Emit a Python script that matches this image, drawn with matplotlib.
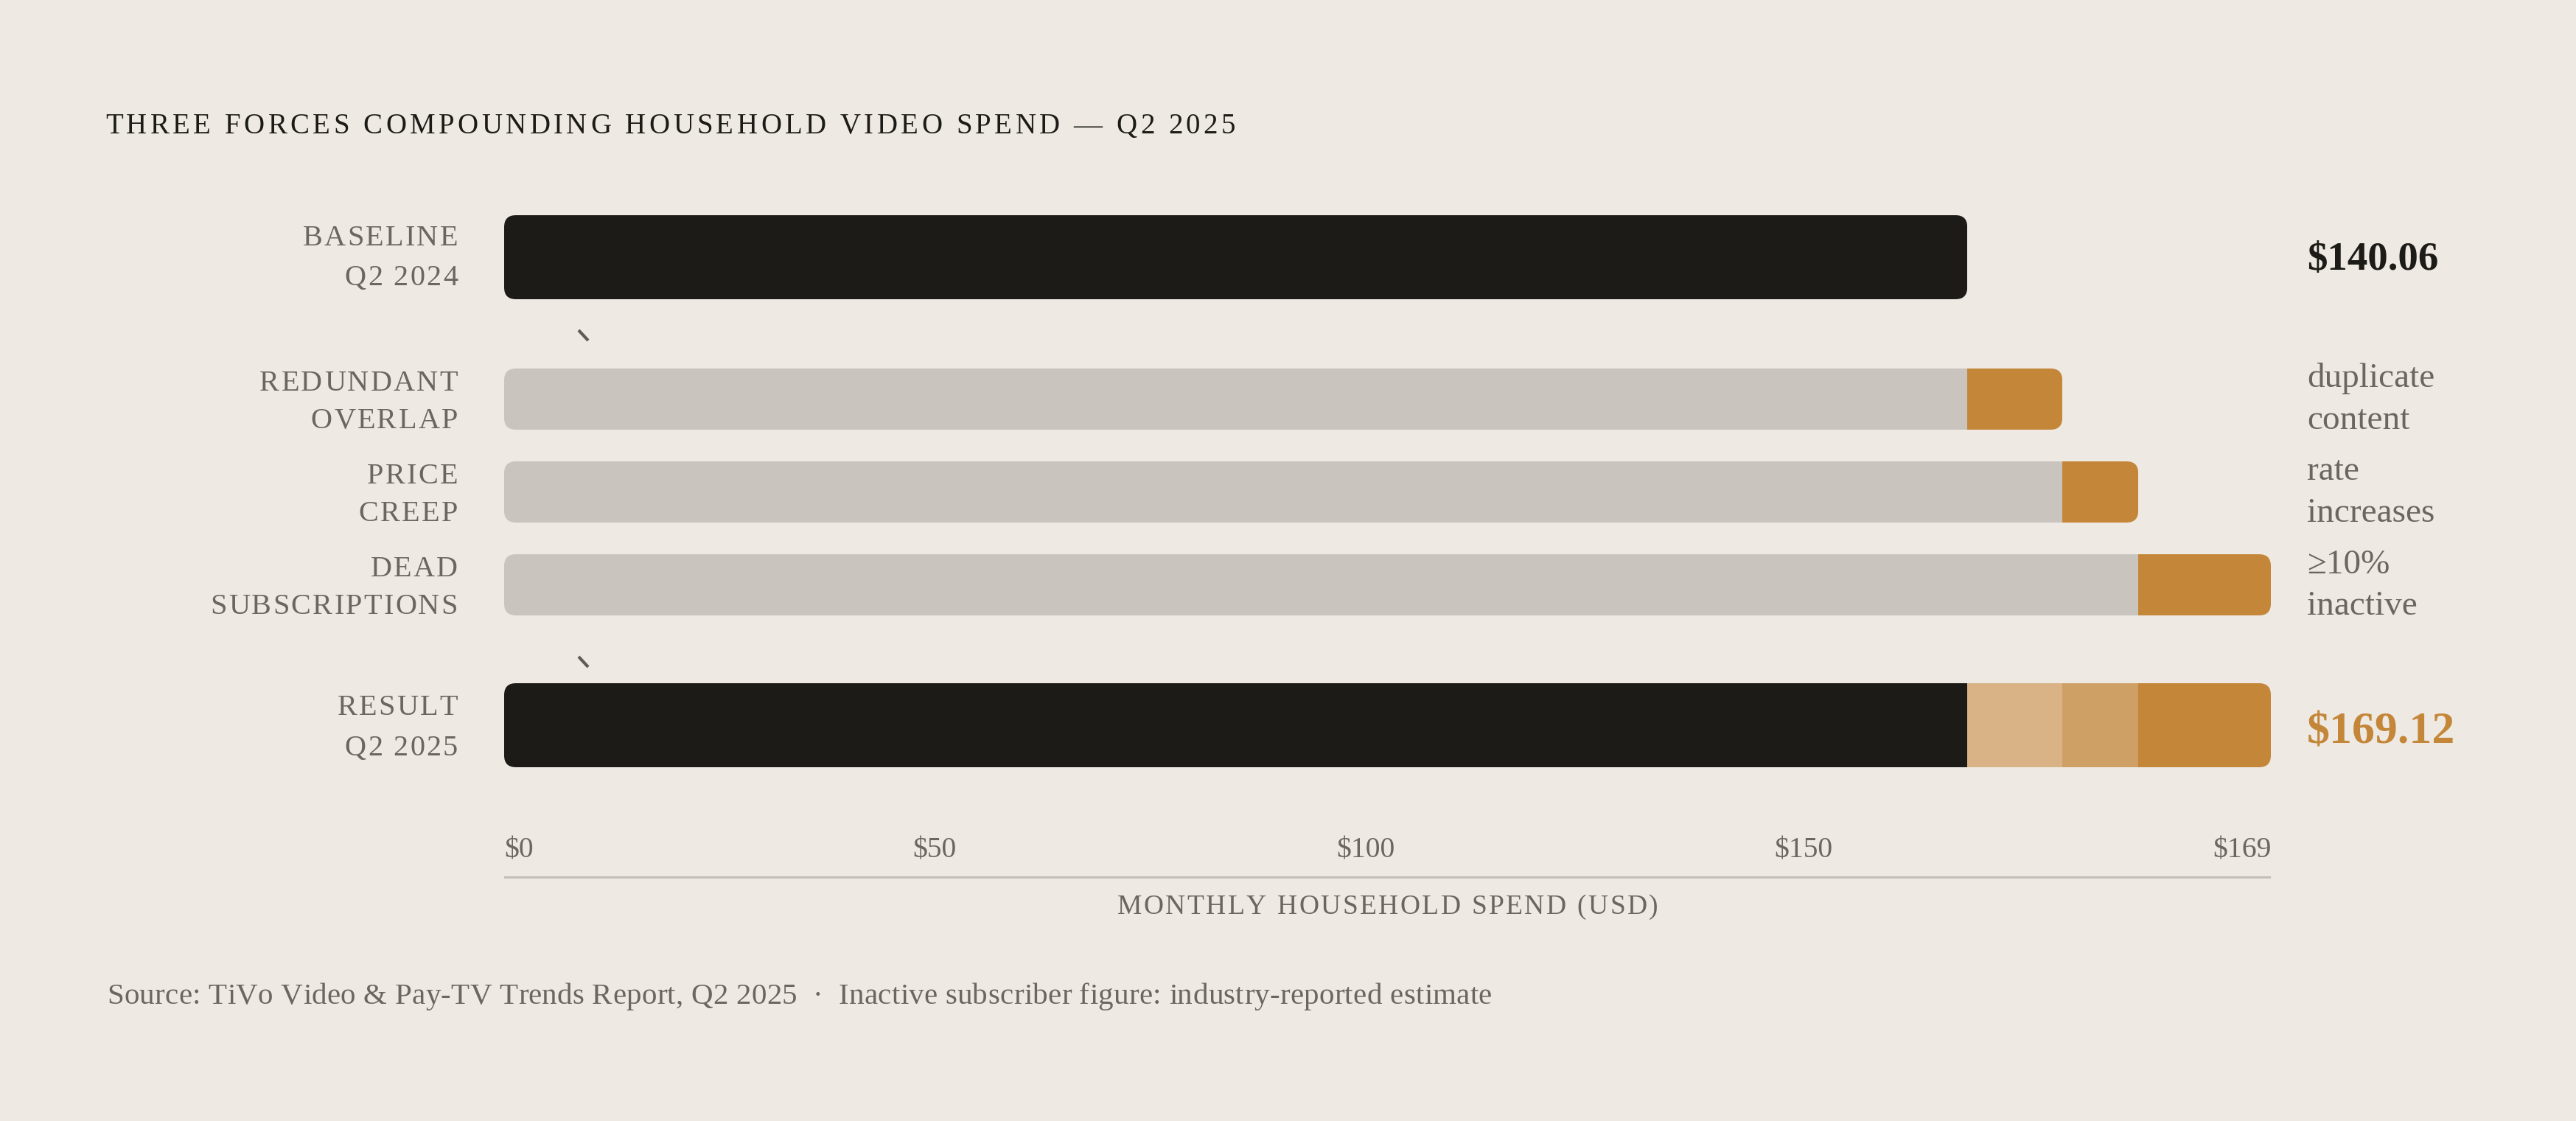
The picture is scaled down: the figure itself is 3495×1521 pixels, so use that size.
import numpy as np
import matplotlib
matplotlib.use("Agg")
import matplotlib.pyplot as plt
from matplotlib.patches import FancyBboxPatch
from matplotlib.lines import Line2D
from matplotlib.font_manager import FontProperties, findfont, get_font
try:
    from matplotlib.ft2font import LoadFlags
    NOHINT = LoadFlags.NO_HINTING
except Exception:  # older matplotlib
    from matplotlib.ft2font import LOAD_NO_HINTING as NOHINT

# ---------------- data ----------------
row_labels = [["BASELINE", "Q2 2024"],
              ["REDUNDANT", "OVERLAP"],
              ["PRICE", "CREEP"],
              ["DEAD", "SUBSCRIPTIONS"],
              ["RESULT", "Q2 2025"]]
baseline_spend = 140.06
force_values = [9.10, 7.27, 12.69]          # overlap, price creep, dead subs
force_notes = [["duplicate", "content"],
               ["rate", "increases"],
               ["\u226510%", "inactive"]]
tick_labels = ["$0", "$50", "$100", "$150", "$169"]
baseline_label = "$140.06"
result_label = "$169.12"
title = "THREE FORCES COMPOUNDING HOUSEHOLD VIDEO SPEND \u2014 Q2 2025"
axis_title = "MONTHLY HOUSEHOLD SPEND (USD)"
source = ("Source: TiVo Video & Pay-TV Trends Report, Q2 2025  \u00b7  "
          "Inactive subscriber figure: industry-reported estimate")

# ---------------- style / layout ----------------
W, H, DPI = 3495, 1521, 100
BG = "#eeeae3"
DARK = "#1c1b17"
GRAY = "#c9c4bd"
ORANGE = "#c4873a"
RES_SEG = ["#d9b385", "#cfa066", "#c4873a"]
TXT = "#6b675f"
AXLINE = "#c3beb6"
FAM = ["Liberation Serif", "DejaVu Serif"]

bar_x0, bar_x1 = 684, 3081
row_center = [349, 541.5, 667.5, 793.5, 984]
row_height = [114, 83, 83, 83, 114]
label_right = 621
label_base = [(-16, 38), (-11.5, 39.5), (-11.5, 39.5), (-11, 39.5), (-14, 41)]
note_x = 3130

plt.rcParams['font.family'] = FAM
fig = plt.figure(figsize=(W / DPI, H / DPI), dpi=DPI, facecolor=BG)


def fp(size, weight="normal"):
    return FontProperties(family=FAM, size=size, weight=weight)


def advances(s, prop):
    font = get_font(findfont(prop))
    font.set_size(prop.get_size_in_points(), DPI)
    out = []
    for ch in s:
        g = font.load_char(ord(ch), flags=NOHINT)
        out.append(g.linearHoriAdvance / 65536.0)
    return out


def text_width(s, prop, spacing=0.0):
    a = advances(s, prop)
    return sum(a) + spacing * (len(s) - 1)


def spaced_text(x, y, s, prop, spacing=0.0, ha="left", color=TXT):
    a = advances(s, prop)
    total = sum(a) + spacing * (len(s) - 1)
    if ha == "right":
        x = x - total
    elif ha == "center":
        x = x - total / 2
    cx = x
    for ch, adv in zip(s, a):
        if ch != " ":
            fig.text(cx / W, 1 - y / H, ch, fontproperties=prop, ha="left",
                     va="baseline", color=color)
        cx += adv + spacing


def ftext(x, y, s, prop, ha="left", color=TXT):
    fig.text(x / W, 1 - y / H, s, fontproperties=prop, ha=ha,
             va="baseline", color=color)


# ---------------- bars ----------------
total = baseline_spend + sum(force_values)
ax = fig.add_axes([bar_x0 / W, 0, (bar_x1 - bar_x0) / W, 1])
ax.set_xlim(0, total)
ax.set_ylim(H, 0)
ax.axis("off")
ax.patch.set_alpha(0)

px_per_x = (bar_x1 - bar_x0) / total
radius = 16 / px_per_x


def rounded_clip(yc, h, width):
    p = FancyBboxPatch((0, yc - h / 2), width, h,
                       boxstyle=f"round,pad=0,rounding_size={radius}",
                       mutation_aspect=px_per_x,
                       transform=ax.transData, facecolor="none",
                       edgecolor="none")
    return p


def seg(yc, h, left, width, color, clip):
    b = ax.barh(yc, width, left=left, height=h, color=color, linewidth=0)
    for r in b:
        r.set_clip_path(clip)


# baseline row
clip = rounded_clip(row_center[0], row_height[0], baseline_spend)
seg(row_center[0], row_height[0], 0, baseline_spend, DARK, clip)

# force rows
starts = baseline_spend + np.concatenate([[0], np.cumsum(force_values)[:-1]])
for k, (st, v) in enumerate(zip(starts, force_values)):
    i = k + 1
    clip = rounded_clip(row_center[i], row_height[i], st + v)
    seg(row_center[i], row_height[i], 0, st, GRAY, clip)
    seg(row_center[i], row_height[i], st, v, ORANGE, clip)

# result row
clip = rounded_clip(row_center[4], row_height[4], total)
seg(row_center[4], row_height[4], 0, baseline_spend, DARK, clip)
for st, v, c in zip(starts, force_values, RES_SEG):
    seg(row_center[4], row_height[4], st, v, c, clip)

# axis line
ax.axhline(1190, xmin=0, xmax=1, color=AXLINE, linewidth=2.2)

# small connector marks
for y0 in (448, 891):
    fig.add_artist(Line2D([785 / W, 798 / W], [1 - y0 / H, 1 - (y0 + 14) / H],
                          transform=fig.transFigure, color="#5f5b55",
                          linewidth=3.0, solid_capstyle="butt"))

# ---------------- text ----------------
# title
p_title = fp(28)
sp = (1533 - text_width(title, p_title)) / (len(title) - 1)
spaced_text(143, 181, title, p_title, spacing=sp, color=DARK)

# row labels
p_lab = fp(29)
lab_sp = max(0.0, (336 - text_width("SUBSCRIPTIONS", p_lab)) / 12)
for lines, yc, (o1, o2) in zip(row_labels, row_center, label_base):
    spaced_text(label_right, yc + o1, lines[0], p_lab, lab_sp, ha="right")
    spaced_text(label_right, yc + o2, lines[1], p_lab, lab_sp, ha="right")

# right-hand annotations
p_note = fp(34)
for lines, yc in zip(force_notes, row_center[1:4]):
    ftext(note_x, yc - 16, lines[0], p_note)
    ftext(note_x, yc + 41, lines[1], p_note)

ftext(note_x, 366, baseline_label, fp(39.5, "bold"), color=DARK)
ftext(note_x, 1008, result_label, fp(44.5, "bold"), color=ORANGE)

# tick labels (spread across the axis)
p_tick = fp(28.5)
widths = [text_width(t, p_tick) for t in tick_labels]
gap = ((bar_x1 - bar_x0) - sum(widths)) / (len(tick_labels) - 1)
cx = bar_x0
for t, w in zip(tick_labels, widths):
    ftext(cx, 1163, t, p_tick)
    cx += w + gap

# axis title
p_ax = fp(27)
sp_ax = (734 - text_width(axis_title, p_ax)) / (len(axis_title) - 1)
spaced_text((bar_x0 + bar_x1) / 2, 1240, axis_title, p_ax, sp_ax, ha="center")

# source
p_src = fp(29.5)
src_sp = max(0.0, (1879 - text_width(source, p_src)) / (len(source) - 1))
spaced_text(145, 1362, source, p_src, src_sp)

fig.savefig("out.png", dpi=DPI, facecolor=BG)
